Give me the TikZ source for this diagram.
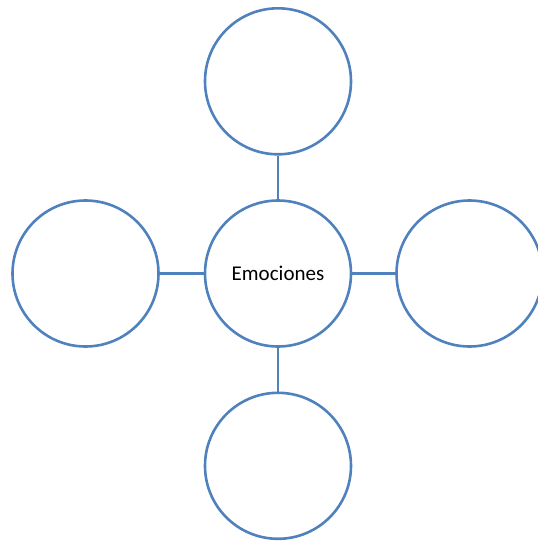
\documentclass[tikz,border=0pt]{standalone}
\usepackage{fontspec}
\setmainfont{Carlito}
\definecolor{ringblue}{RGB}{79,129,189}
\begin{document}
\begin{tikzpicture}[x=1pt,y=-1pt,
  ring/.style={circle, draw=ringblue, line width=2.6pt, minimum size=146pt, inner sep=0pt, font=\fontsize{21}{25}\selectfont},
  link/.style={draw=ringblue, line width=2.6pt}]
\useasboundingbox (0,0) rectangle (538,542);
\node[ring] (c) at (278,273.5) {Emociones};
\node[ring] (t) at (278,81.3) {};
\node[ring] (b) at (278,465.8) {};
\node[ring] (l) at (85.5,273.5) {};
\node[ring] (r) at (469.5,273.5) {};
\draw[link] (t) -- (c);
\draw[link] (c) -- (b);
\draw[link] (l) -- (c);
\draw[link] (c) -- (r);
\end{tikzpicture}
\end{document}
